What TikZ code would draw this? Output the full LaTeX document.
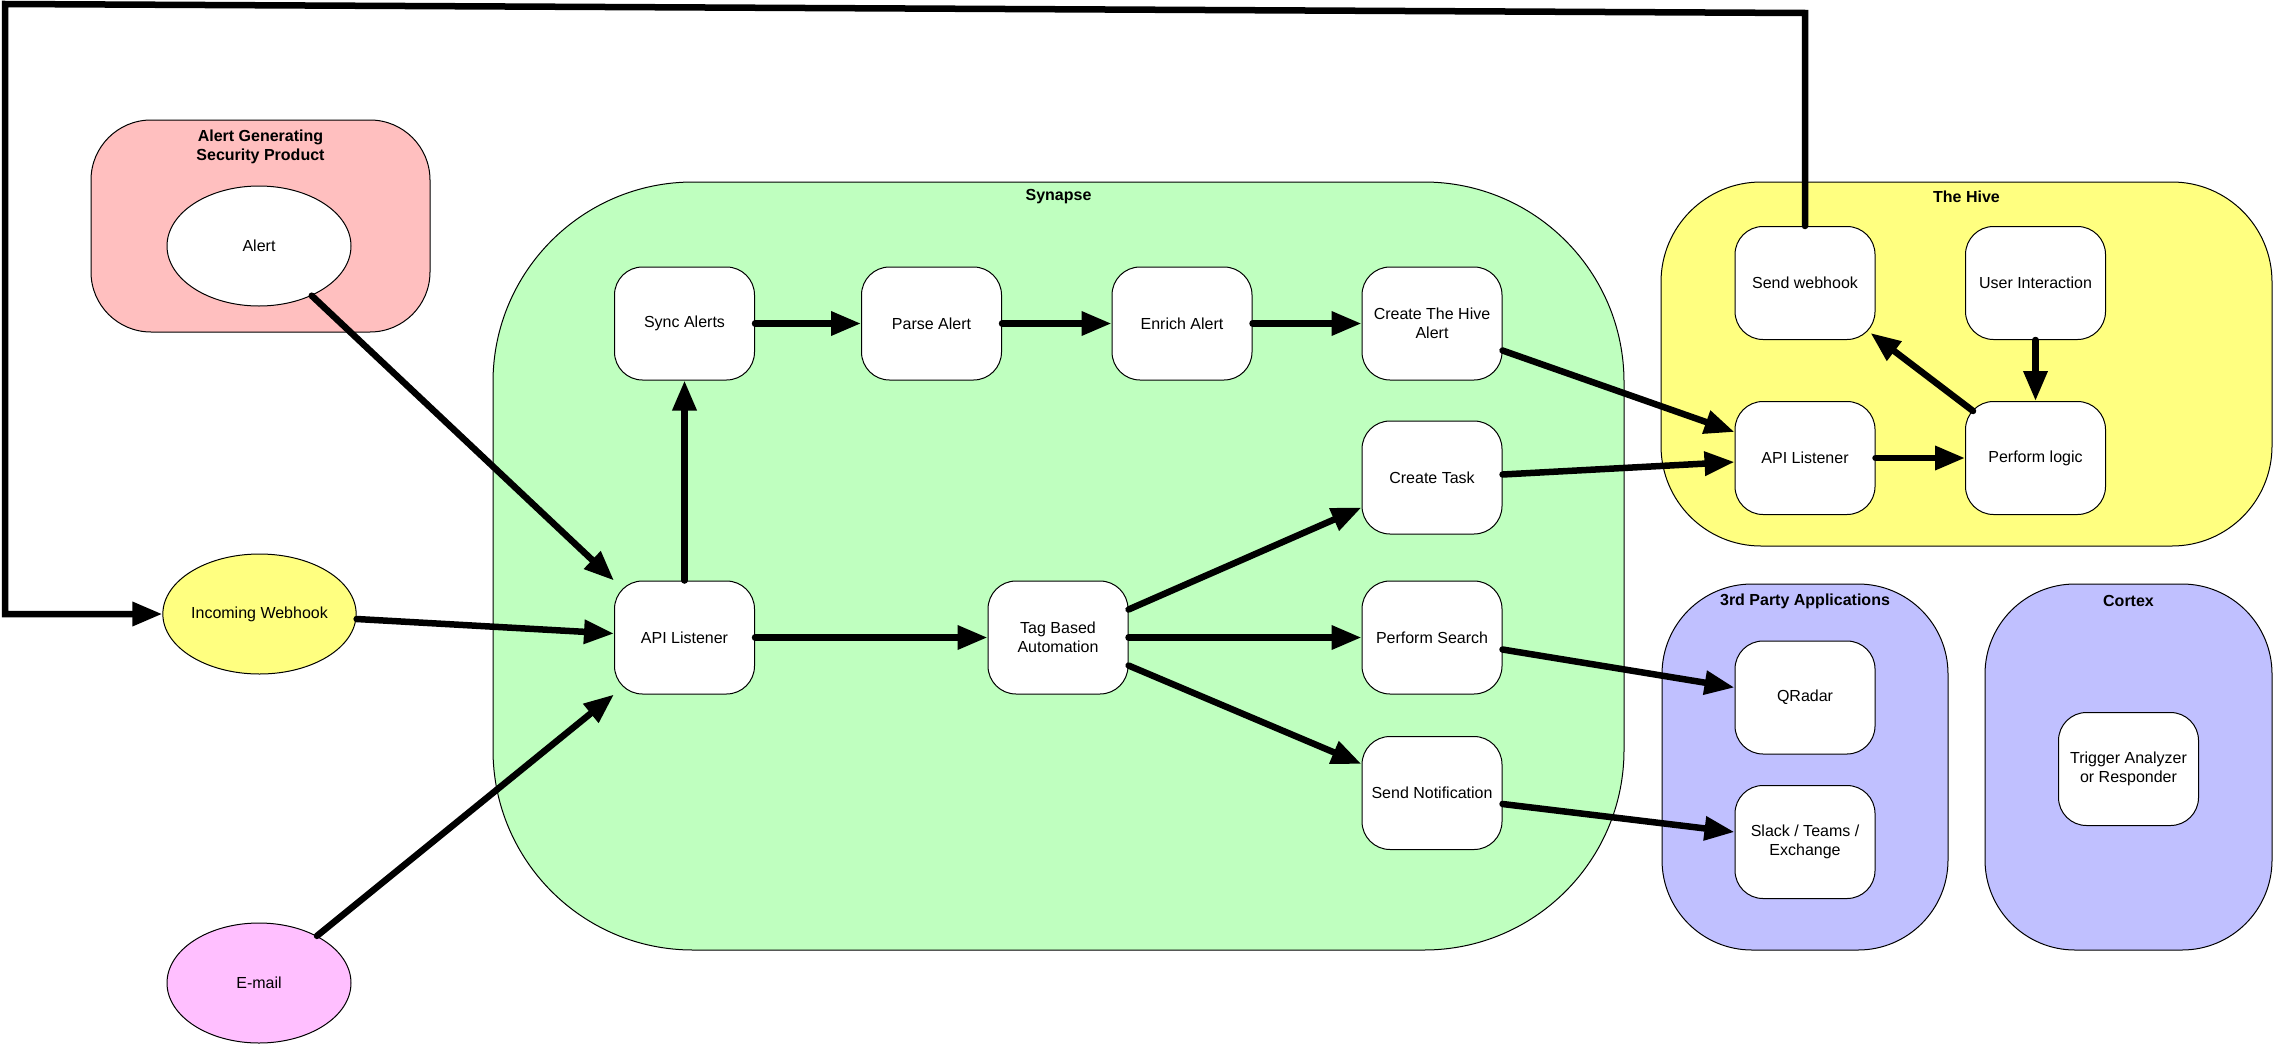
\documentclass[tikz,border=0pt]{standalone}
\usepackage{fontspec}
\setmainfont{Liberation Sans}
\usetikzlibrary{arrows.meta,shapes.geometric}
\definecolor{cpink}{HTML}{FFBFBF}
\definecolor{cgreen}{HTML}{BFFFBF}
\definecolor{cyellow}{HTML}{FFFF80}
\definecolor{cviolet}{HTML}{C0C0FF}
\definecolor{cmagenta}{HTML}{FFBFFF}
\begin{document}
\begin{tikzpicture}[x=1pt,y=-1pt,
  every node/.style={font=\fontsize{16}{19.2}\selectfont},
  group/.style={draw=black, line width=1pt, inner sep=0pt},
  grouptitle/.style={font=\fontsize{16}{19.2}\selectfont\bfseries, align=center, inner sep=0pt},
  box/.style={draw=black, fill=white, line width=1pt, rounded corners=28pt, minimum width=140pt, minimum height=113pt, align=center, inner sep=0pt},
  oval/.style={draw=black, ellipse, line width=1pt, minimum width=184pt, minimum height=120pt, inner sep=0pt, align=center},
  conn/.style={line width=6.5pt, line cap=round, -{Triangle[length=30pt,width=23pt]}},
]
\useasboundingbox (0,0) rectangle (2274,1044);

% containers
\node[group, fill=cpink, rounded corners=60pt, minimum width=339pt, minimum height=212pt] (agp) at (260.5,226) {};
\node[group, fill=cgreen, rounded corners=200pt, minimum width=1131pt, minimum height=768pt] (syn) at (1058.5,566) {};
\node[group, fill=cyellow, rounded corners=100pt, minimum width=611pt, minimum height=364pt] (hive) at (1966.5,364) {};
\node[group, fill=cviolet, rounded corners=90pt, minimum width=286pt, minimum height=366pt] (third) at (1805,767) {};
\node[group, fill=cviolet, rounded corners=90pt, minimum width=287pt, minimum height=366pt] (cortex) at (2128.5,767) {};

% titles
\node[grouptitle] (agpt) at (260.5,147) {Alert Generating\\Security Product};
\node[grouptitle] (synt) at (1058.5,197) {Synapse};
\node[grouptitle] (hivet) at (1966.5,197) {The Hive};
\node[grouptitle] (thirdt) at (1805,601) {3rd Party Applications};
\node[grouptitle] (cortext) at (2128.5,601) {Cortex};

% ellipses
\node[oval, fill=white] (alert) at (259,246) {Alert};
\node[oval, fill=cyellow] (webhook) at (259.5,614) {Incoming Webhook};
\node[oval, fill=cmagenta] (email) at (259,983) {E-mail};

% boxes
\node[box] (sync) at (684.5,323.5) {Sync Alerts};
\node[box] (parse) at (931.5,323.5) {Parse Alert};
\node[box] (enrich) at (1182,323.5) {Enrich Alert};
\node[box] (chalert) at (1432,323.5) {Create The Hive\\Alert};
\node[box] (ctask) at (1432,477.5) {Create Task};
\node[box] (sapi) at (684.5,637.5) {API Listener};
\node[box] (tag) at (1058,637.5) {Tag Based\\Automation};
\node[box] (psearch) at (1432,637.5) {Perform Search};
\node[box] (snotif) at (1432,793) {Send Notification};
\node[box] (swebhook) at (1805,283) {Send webhook};
\node[box] (uinter) at (2035.5,283) {User Interaction};
\node[box] (hapi) at (1805,458) {API Listener};
\node[box] (plogic) at (2035.5,458) {Perform logic};
\node[box] (qradar) at (1805,697.5) {QRadar};
\node[box] (slack) at (1805,842) {Slack / Teams /\\Exchange};
\node[box] (trigger) at (2128.5,769) {Trigger Analyzer\\or Responder};

% connectors
\draw[conn] (alert) -- (sapi.north west);
\draw[conn] ([yshift=-5pt]webhook.east) -- ([yshift=4pt]sapi.west);
\draw[conn] (email) -- (sapi.south west);
\draw[conn] (sapi.north) -- (sync.south);
\draw[conn] (sync) -- (parse);
\draw[conn] (parse) -- (enrich);
\draw[conn] (enrich) -- (chalert);
\draw[conn] (sapi) -- (tag);
\draw[conn] ([yshift=28pt]tag.east) -- ([yshift=-30pt]ctask.west);
\draw[conn] (tag) -- (psearch);
\draw[conn] ([yshift=-28pt]tag.east) -- ([yshift=29pt]snotif.west);
\draw[conn] ([yshift=-27pt]chalert.east) -- ([yshift=26pt]hapi.west);
\draw[conn] ([yshift=3pt]ctask.east) -- ([yshift=-4pt]hapi.west);
\draw[conn] (hapi) -- (plogic);
\draw[conn] (uinter) -- (plogic);
\draw[conn] ([shift={(8pt,-10pt)}]plogic.north west) -- ([shift={(-5pt,7pt)}]swebhook.south east);
\draw[conn] ([yshift=-12pt]psearch.east) -- ([yshift=10pt]qradar.west);
\draw[conn] ([yshift=-11pt]snotif.east) -- ([yshift=10pt]slack.west);
\coordinate (r1) at (1805,13);
\coordinate (r2) at (5,4);
\coordinate (r3) at (5,614);
\draw[conn, line join=miter] (swebhook.north) -- (r1) -- (r2) -- (r3) -- (webhook.west);
\end{tikzpicture}
\end{document}
